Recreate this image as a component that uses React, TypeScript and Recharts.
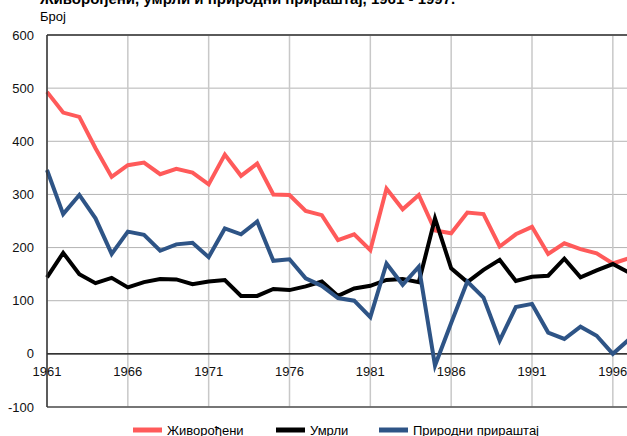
import React from "react";
import { LineChart, Line, XAxis, YAxis, CartesianGrid, ReferenceLine } from "recharts";

const years = [1961,1962,1963,1964,1965,1966,1967,1968,1969,1970,1971,1972,1973,1974,1975,1976,1977,1978,1979,1980,1981,1982,1983,1984,1985,1986,1987,1988,1989,1990,1991,1992,1993,1994,1995,1996,1997];
const births = [493,454,446,387,333,355,360,338,348,341,319,375,335,358,300,299,269,261,214,225,195,311,272,299,232,227,266,263,202,225,239,188,208,197,189,170,180];
const deaths = [144,190,150,133,143,125,135,141,140,131,136,139,109,109,122,120,127,136,109,123,128,139,141,135,255,161,135,158,177,137,145,147,179,144,157,169,153];
const natural = [346,263,299,255,188,230,224,194,206,209,182,236,225,249,175,178,142,128,105,100,69,170,130,164,-22,58,136,106,25,88,94,40,28,51,34,0,27];

const xTicks = [1961,1966,1971,1976,1981,1986,1991,1996];
const yTicks = [-100,0,100,200,300,400,500,600];

const title = "Живорођени, умрли и природни прираштај, 1961 - 1997.";
const yLabel = "Број";

const seriesNames = ["Живорођени", "Умрли", "Природни прираштај"];
const seriesColors = ["#FF5A5A", "#000000", "#2E5486"];
const seriesKeys = ["births", "deaths", "natural"];

const data = years.map((y, i) => ({ year: y, births: births[i], deaths: deaths[i], natural: natural[i] }));

const FONT = "'Liberation Sans', Arial, sans-serif";

const XTick = (props: any) => {
  const { x, y, payload } = props;
  return (
    <text x={x} y={y - 31} textAnchor="middle" fontFamily={FONT} fontSize={13} fill="#111">
      {payload.value}
    </text>
  );
};

const legendX = [133, 276, 379];

export default function App() {
  return (
    <div style={{ position: "absolute", left: 0, top: 0, width: 627, height: 436, overflow: "hidden", background: "#fff" }}>
      <LineChart width={660} height={436} data={data} margin={{ top: 35, right: 31, left: 0, bottom: 0 }}>
        <CartesianGrid horizontal={true} vertical={false} stroke="#b4b4b4" strokeWidth={1} />
        <CartesianGrid horizontal={false} vertical={true} stroke="#c8c8c8" strokeWidth={1.5} />
        <XAxis
          dataKey="year"
          type="number"
          domain={[1961, 1997]}
          ticks={xTicks}
          interval={0}
          height={29}
          tickSize={0}
          tickMargin={0}
          tickLine={false}
          axisLine={{ stroke: "#555", strokeWidth: 1.5 }}
          tick={<XTick />}
        />
        <YAxis
          type="number"
          domain={[-100, 600]}
          ticks={yTicks}
          interval={0}
          width={47}
          tickSize={0}
          tickMargin={13}
          tickLine={false}
          axisLine={{ stroke: "#333", strokeWidth: 1.5 }}
          tick={{ fontFamily: FONT, fontSize: 13, fill: "#111" }}
        />
        <ReferenceLine y={0} stroke="#000" strokeWidth={1.3} />
        <ReferenceLine y={600} stroke="#5a5a5a" strokeWidth={2} />
        {seriesKeys.map((k, i) => (
          <Line
            key={k}
            dataKey={k}
            name={seriesNames[i]}
            type="linear"
            stroke={seriesColors[i]}
            strokeWidth={4}
            dot={false}
            activeDot={false}
            isAnimationActive={false}
          />
        ))}
      </LineChart>
      <svg width={627} height={436} style={{ position: "absolute", left: 0, top: 0, pointerEvents: "none" }}>
        <text x={40} y={4} fontFamily={FONT} fontSize={15} fontWeight="bold" fill="#000">{title}</text>
        <text x={40} y={21} fontFamily={FONT} fontSize={13} fill="#000">{yLabel}</text>
        {seriesNames.map((n, i) => (
          <g key={n}>
            <line x1={legendX[i]} x2={legendX[i] + 29} y1={430} y2={430} stroke={seriesColors[i]} strokeWidth={5} />
            <text x={legendX[i] + 34} y={434.5} fontFamily={FONT} fontSize={13} fill="#000">{n}</text>
          </g>
        ))}
      </svg>
    </div>
  );
}
